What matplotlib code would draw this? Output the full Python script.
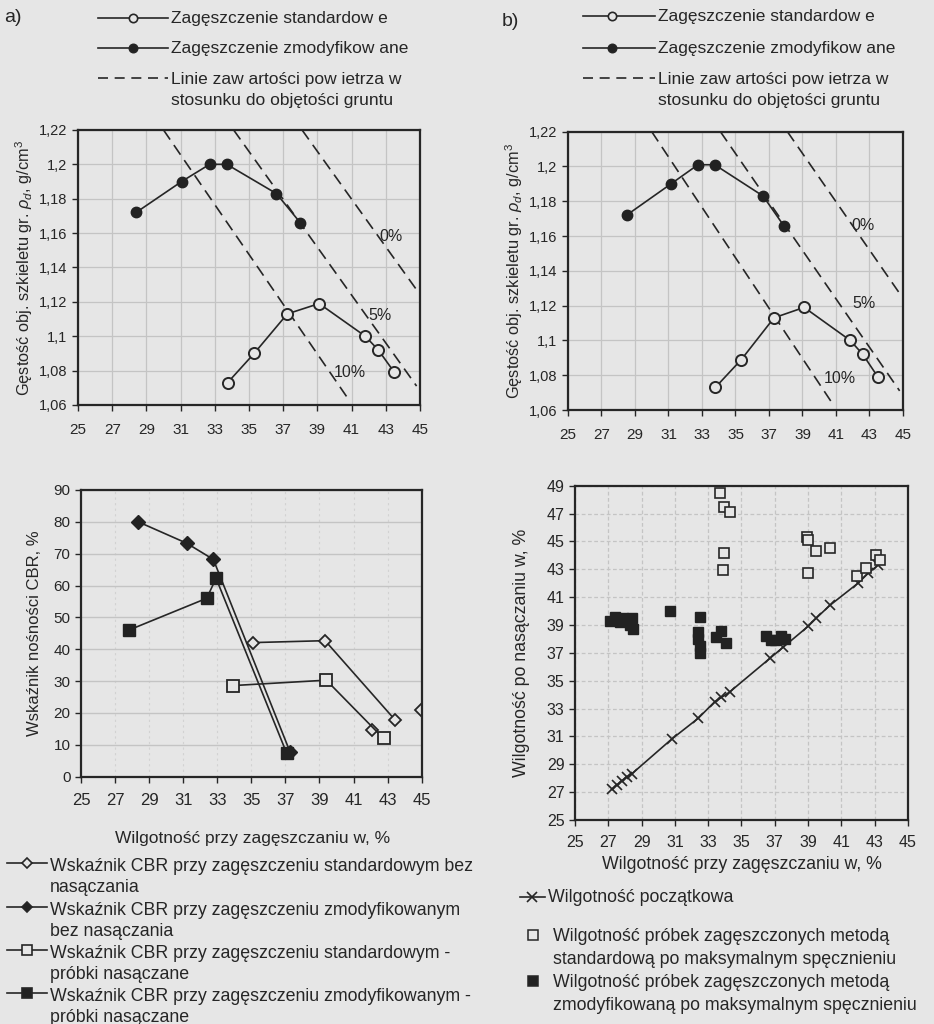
import matplotlib
matplotlib.use("Agg")
import matplotlib.pyplot as plt
from matplotlib.lines import Line2D

plt.rcParams["font.family"] = ["Liberation Sans", "DejaVu Sans"]
plt.rcParams["mathtext.fontset"] = "custom"
plt.rcParams["mathtext.rm"] = "Liberation Sans"
plt.rcParams["mathtext.it"] = "Liberation Sans:italic"

BG = "#e6e6e6"
INK = "#262626"
GRID = "#c4c4c4"

# --- panel a / b: compaction curves ---
std_w_a = [33.75, 35.3, 37.24, 39.1, 41.8, 42.56, 43.5]
std_rho_a = [1.073, 1.090, 1.113, 1.119, 1.100, 1.092, 1.079]
mod_w_a = [28.4, 31.06, 32.7, 33.7, 36.6, 38.0]
mod_rho_a = [1.172, 1.190, 1.200, 1.200, 1.183, 1.166]

std_w_b = [33.8, 35.35, 37.3, 39.1, 41.85, 42.6, 43.5]
std_rho_b = [1.073, 1.089, 1.113, 1.119, 1.100, 1.092, 1.079]
mod_w_b = [28.5, 31.15, 32.76, 33.76, 36.65, 37.88]
mod_rho_b = [1.172, 1.190, 1.201, 1.201, 1.183, 1.166]

air_labels = ["0%", "5%", "10%"]
air_w = [[38.1, 44.8], [34.1, 44.8], [30.0, 40.7]]
air_rho = [[1.22, 1.127], [1.22, 1.071], [1.22, 1.065]]
air_lab_a = [(43.3, 1.158), (42.66, 1.112), (40.9, 1.079)]
air_lab_b = [(42.6, 1.166), (42.7, 1.121), (41.2, 1.078)]

rho_ticks = [1.06, 1.08, 1.10, 1.12, 1.14, 1.16, 1.18, 1.20, 1.22]
rho_ticklabels = ["1,06", "1,08", "1,1", "1,12", "1,14", "1,16", "1,18", "1,2", "1,22"]
w_ticks = list(range(25, 46, 2))

# --- panel c: CBR ---
cbr_std_w = [35.12, 39.33, 43.44]
cbr_std = [42.1, 42.7, 17.8]
cbr_std_extra_w = [42.07, 44.95]
cbr_std_extra = [14.6, 20.9]
cbr_mod_w = [28.36, 31.2, 32.77, 37.27]
cbr_mod = [80.0, 73.3, 68.2, 7.8]
cbr_std_soak_w = [33.9, 39.4, 42.76]
cbr_std_soak = [28.6, 30.3, 12.0]
cbr_mod_soak_w = [27.8, 32.38, 32.93, 37.08]
cbr_mod_soak = [46.0, 56.0, 62.3, 7.3]

# --- panel d: moisture after soaking ---
init_w = [27.2, 27.5, 27.8, 28.1, 28.4, 30.8, 32.4, 33.4, 33.8, 34.3,
          36.7, 37.5, 39.0, 39.5, 40.3, 42.0, 42.6, 43.2]
init_ws = [27.2, 27.5, 27.8, 28.1, 28.3, 30.8, 32.3, 33.5, 33.8, 34.2,
           36.6, 37.4, 38.9, 39.5, 40.4, 42.0, 42.7, 43.3]
std_sw_w = [33.7, 33.95, 34.3, 33.95, 33.9, 38.95, 39.0, 39.5, 40.3, 39.0,
            41.95, 42.5, 43.1, 43.3]
std_sw = [48.45, 47.45, 47.1, 44.15, 42.95, 45.35, 45.1, 44.3, 44.5, 42.7,
          42.5, 43.1, 44.0, 43.7]
mod_sw_w = [27.1, 27.4, 27.7, 27.9, 28.3, 28.4, 28.5, 30.7, 32.5, 32.4, 32.4,
            32.5, 32.5, 33.5, 33.8, 34.1, 36.5, 36.8, 37.0, 37.4, 37.6]
mod_sw = [39.3, 39.6, 39.2, 39.5, 39.0, 39.5, 38.7, 40.0, 39.6, 38.5, 38.0,
          37.5, 37.0, 38.15, 38.6, 37.7, 38.2, 37.9, 37.9, 38.2, 38.0]


def px(x, y):
    return x / 934, 1 - y / 1024


def style_axes(ax, xfs, yfs):
    ax.set_facecolor(BG)
    for s in ax.spines.values():
        s.set_color(INK)
        s.set_linewidth(1.6)
    ax.tick_params(colors=INK, length=4, width=1, direction="out")
    ax.tick_params(axis="x", labelsize=xfs, labelcolor=INK)
    ax.tick_params(axis="y", labelsize=yfs, labelcolor=INK)
    ax.set_axisbelow(True)


fig = plt.figure(figsize=(9.34, 10.24), dpi=100, facecolor=BG)


def compaction(rect, sw, srho, mw, mrho, labpos):
    ax = fig.add_axes(rect)
    style_axes(ax, 11, 10.5)
    ax.grid(True, color=GRID, lw=0.9)
    for w, r in zip(air_w, air_rho):
        ax.plot(w, r, color=INK, lw=1.2, ls=(0, (7, 4)))
    for lab, (x, y) in zip(air_labels, labpos):
        ax.text(x, y, lab, fontsize=11.5, color=INK, ha="center", va="center")
    ax.plot(mw, mrho, color=INK, lw=1.2, marker="o", ms=7.5,
            mfc="#222222", mec="#222222")
    ax.plot(sw, srho, color=INK, lw=1.2, marker="o", ms=8,
            mfc=BG, mec=INK, mew=1.4)
    ax.set_xlim(25, 45)
    ax.set_ylim(1.06, 1.22)
    ax.set_xticks(w_ticks)
    ax.set_yticks(rho_ticks)
    ax.set_yticklabels(rho_ticklabels)
    ax.tick_params(axis="x", pad=9)
    ax.set_ylabel("Gęstość obj. szkieletu gr. $\\rho_d$, g/cm$^3$",
                  fontsize=11.8, color=INK, labelpad=3)
    return ax


ax_a = compaction([0.0835, 0.6045, 0.3662, 0.2686], std_w_a, std_rho_a,
                  mod_w_a, mod_rho_a, air_lab_a)
ax_b = compaction([0.6081, 0.5996, 0.3587, 0.2718], std_w_b, std_rho_b,
                  mod_w_b, mod_rho_b, air_lab_b)


# top legends
def top_legend(lab, lab_xy, x0, x1, xm, tx, ys):
    fig.text(*px(*lab_xy), lab, fontsize=14, color=INK, va="center")
    fills = [BG, "#222222"]
    texts = ["Zagęszczenie standardow e", "Zagęszczenie zmodyfikow ane"]
    for fc, t, y in zip(fills, texts, ys[:2]):
        fig.add_artist(Line2D([x0 / 934, x1 / 934], [1 - y / 1024] * 2,
                              color=INK, lw=1.2))
        fig.add_artist(Line2D([xm / 934], [1 - y / 1024], marker="o", ms=6,
                              mfc=fc, mec=INK, mew=1.2, ls="none"))
        fig.text(*px(tx, y), t, fontsize=12.5, color=INK, va="center")
    y = ys[2]
    fig.add_artist(Line2D([x0 / 934, x1 / 934], [1 - y / 1024] * 2,
                          color=INK, lw=1.2, ls=(0, (6, 4))))
    fig.text(*px(tx, y - 6),
             "Linie zaw artości pow ietrza w\nstosunku do objętości gruntu",
             fontsize=12.5, color=INK, va="top", linespacing=1.5)


top_legend("a)", (4, 18), 98, 168, 133, 171, [18, 48, 78])
top_legend("b)", (502, 22), 583, 655, 612, 658, [16, 48, 78])

# panel c
ax_c = fig.add_axes([0.0867, 0.2415, 0.3648, 0.28])
style_axes(ax_c, 12, 11)
ax_c.grid(True, axis="y", color=GRID, lw=1.0)
ax_c.grid(True, axis="x", color="#d2d2d2", lw=0.8, ls=(0, (2, 3)))
ax_c.plot(cbr_std_w, cbr_std, color=INK, lw=1.2, marker="D", ms=6,
          mfc=BG, mec=INK, mew=1.3)
ax_c.plot(cbr_std_extra_w, cbr_std_extra, ls="none", marker="D", ms=6,
          mfc=BG, mec=INK, mew=1.3)
ax_c.plot(cbr_std_soak_w, cbr_std_soak, color=INK, lw=1.2, marker="s", ms=8,
          mfc=BG, mec=INK, mew=1.3)
ax_c.plot(cbr_mod_w, cbr_mod, color=INK, lw=1.2, marker="D", ms=7,
          mfc="#222222", mec="#222222")
ax_c.plot(cbr_mod_soak_w, cbr_mod_soak, color=INK, lw=1.2, marker="s", ms=9,
          mfc="#222222", mec="#222222")
ax_c.set_xlim(25, 45)
ax_c.set_ylim(0, 90)
ax_c.set_xticks(w_ticks)
ax_c.set_yticks(range(0, 91, 10))
ax_c.tick_params(axis="x", pad=8)
ax_c.set_ylabel("Wskaźnik nośności CBR, %", fontsize=12, color=INK, labelpad=8)
fig.text(*px(253, 838), "Wilgotność przy zagęszczaniu w, %", fontsize=12.5,
         color=INK, ha="center", va="center")

c_items = [
    ("D", BG, 5, "Wskaźnik CBR przy zagęszczeniu standardowym bez\nnasączania"),
    ("D", "#222222", 5, "Wskaźnik CBR przy zagęszczeniu zmodyfikowanym\nbez nasączania"),
    ("s", BG, 7, "Wskaźnik CBR przy zagęszczeniu standardowym -\npróbki nasączane"),
    ("s", "#222222", 7, "Wskaźnik CBR przy zagęszczeniu zmodyfikowanym -\npróbki nasączane"),
]
for (m, fc, ms, t), y in zip(c_items, [863, 907, 950, 993]):
    fig.add_artist(Line2D([7 / 934, 47 / 934], [1 - y / 1024] * 2,
                          color=INK, lw=1.2))
    fig.add_artist(Line2D([27 / 934], [1 - y / 1024], marker=m, ms=ms,
                          mfc=fc, mec=INK, mew=1.2, ls="none"))
    fig.text(*px(50, y - 5), t, fontsize=12.8, color=INK, va="top",
             linespacing=1.3)

# panel d
ax_d = fig.add_axes([0.6156, 0.1992, 0.3565, 0.3265])
style_axes(ax_d, 11.5, 11.5)
ax_d.grid(True, color=GRID, lw=0.9, ls=(0, (3, 2)))
ax_d.plot(init_w, init_ws, color=INK, lw=1.2, marker="x", ms=7, mew=1.2)
ax_d.plot(std_sw_w, std_sw, ls="none", marker="s", ms=7, mfc=BG, mec=INK,
          mew=1.2)
ax_d.plot(mod_sw_w, mod_sw, ls="none", marker="s", ms=7, mfc="#222222",
          mec="#222222")
ax_d.set_xlim(25, 45)
ax_d.set_ylim(25, 49)
ax_d.set_xticks(w_ticks)
ax_d.set_yticks(range(25, 50, 2))
ax_d.tick_params(axis="x", pad=7)
ax_d.set_ylabel("Wilgotność po nasączaniu w, %", fontsize=12.8, color=INK,
                labelpad=12)
ax_d.set_xlabel("Wilgotność przy zagęszczaniu w, %", fontsize=12.8,
                color=INK, labelpad=4)

fig.add_artist(Line2D([520 / 934, 545 / 934], [1 - 897 / 1024] * 2,
                      color=INK, lw=1.2))
fig.add_artist(Line2D([532 / 934], [1 - 897 / 1024], marker="x", ms=7,
                      mec=INK, mew=1.2, ls="none"))
fig.text(*px(548, 897), "Wilgotność początkowa", fontsize=12.8, color=INK,
         va="center")
d_items = [
    (BG, "Wilgotność próbek zagęszczonych metodą\nstandardową po maksymalnym spęcznieniu"),
    ("#222222", "Wilgotność próbek zagęszczonych metodą\nzmodyfikowaną po maksymalnym spęcznieniu"),
]
for (fc, t), y in zip(d_items, [935, 981]):
    fig.add_artist(Line2D([533 / 934], [1 - y / 1024], marker="s", ms=7,
                          mfc=fc, mec=INK, mew=1.1, ls="none"))
    fig.text(*px(553, y - 7), t, fontsize=12.8, color=INK, va="top",
             linespacing=1.45)

fig.savefig("out.png", dpi=100, facecolor=BG)
